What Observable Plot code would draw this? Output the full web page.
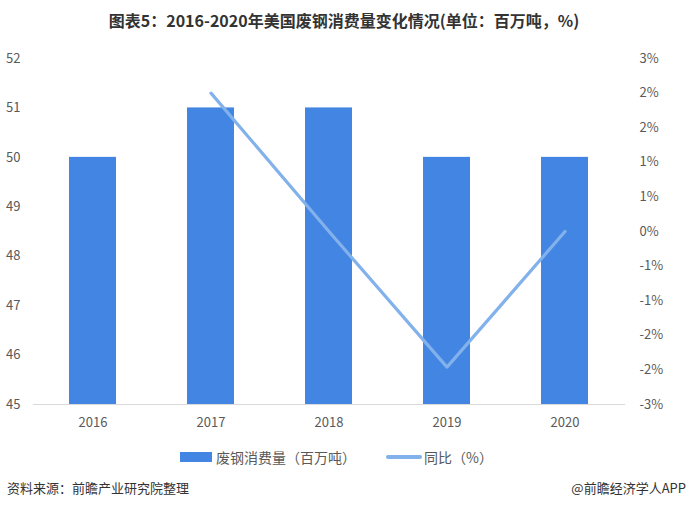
<!DOCTYPE html>
<html><head><meta charset="utf-8">
<script src="https://cdn.jsdelivr.net/npm/d3@7"></script>
<script src="https://cdn.jsdelivr.net/npm/@observablehq/plot@0.6"></script>
<style>
body{margin:0;background:#fff;font-family:"Noto Sans CJK SC","Noto Sans",sans-serif;}
#wrap{position:relative;width:688px;height:508px;overflow:hidden;background:#fff}
#title{position:absolute;left:0;top:0;width:688px;height:40px;line-height:40px;text-align:center;font-size:16px;font-weight:bold;color:#333}
#chart{position:absolute;left:0;top:40px}
.leg{position:absolute;top:446px;height:22px;line-height:22px;font-size:14px;color:#595959;white-space:nowrap}
.sw{position:absolute}
#src{position:absolute;left:7px;top:479px;font-size:13px;color:#333;line-height:18px}
#app{position:absolute;right:2px;top:479px;font-size:13px;color:#333;line-height:18px}
</style></head><body>
<div id="wrap">
<div id="title">图表5：2016-2020年美国废钢消费量变化情况(单位：百万吨，%)</div>
<div id="chart"></div>
<div class="sw" style="left:180px;top:452px;width:32px;height:10px;background:#4285e2"></div>
<div class="leg" style="left:216px">废钢消费量（百万吨）</div>
<div class="sw" style="left:386px;top:455px;width:36px;height:4px;border-radius:2px;background:#82b1ec"></div>
<div class="leg" style="left:424px">同比（%）</div>
<div id="src">资料来源：前瞻产业研究院整理</div>
<div id="app">@前瞻经济学人APP</div>
</div>
<script>
const years = ["2016","2017","2018","2019","2020"];
const consumption = [50, 51, 51, 50, 50];
const yoyYears = ["2017","2018","2019","2020"];
const yoy = [2.0, 0.0, -1.96, 0.0];
const leftTicks = [45,46,47,48,49,50,51,52];
const rightTickValues = [-2.5,-2,-1.5,-1,-0.5,0,0.5,1,1.5,2,2.5];
const rightTickLabels = ["-3%","-2%","-2%","-1%","-1%","0%","1%","1%","2%","2%","3%"];

const yMin = 45, yMax = 52, pMin = -2.5, pMax = 2.5;
const toLeft = p => yMin + (p - pMin) / (pMax - pMin) * (yMax - yMin);

const bars = years.map((y, i) => ({year: y, value: consumption[i]}));
const line = yoyYears.map((y, i) => ({year: y, v: toLeft(yoy[i])}));
const rightPos = rightTickValues.map(toLeft);

const chart = Plot.plot({
  width: 688,
  height: 400,
  marginTop: 18,
  marginBottom: 36,
  marginLeft: 33,
  marginRight: 63,
  style: {fontSize: "13px", color: "#595959", fontFamily: "'Noto Sans CJK SC','Noto Sans',sans-serif", background: "transparent"},
  x: {domain: years, paddingInner: 0.6, paddingOuter: 0.3},
  y: {domain: [yMin, yMax]},
  marks: [
    Plot.barY(bars, {x: "year", y1: yMin, y2: "value", fill: "#4285e2"}),
    Plot.ruleY([yMin], {stroke: "#d9d9d9", strokeWidth: 1}),
    Plot.line(line, {x: "year", y: "v", stroke: "#82b1ec", strokeWidth: 3.2, strokeLinecap: "round", strokeLinejoin: "round"}),
    Plot.axisX({tickSize: 0, tickPadding: 13, label: null}),
    Plot.axisY(leftTicks, {anchor: "left", tickSize: 0, tickPadding: 13, label: null}),
    Plot.axisY(rightPos, {anchor: "right", tickSize: 0, tickPadding: 14, label: null,
      tickFormat: d => rightTickLabels[rightPos.findIndex(v => Math.abs(v - d) < 1e-9)]})
  ]
});
document.getElementById("chart").appendChild(chart);
</script>
</body></html>
